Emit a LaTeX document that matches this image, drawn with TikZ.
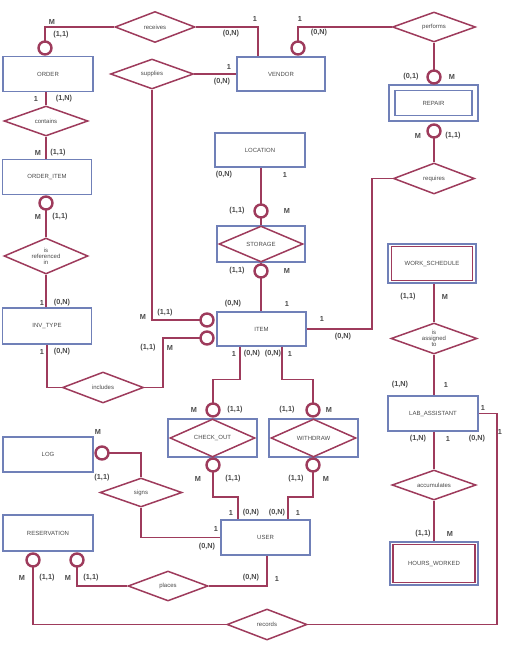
\documentclass[tikz,border=0pt]{standalone}
\usepackage{fontspec}
\setmainfont{Liberation Sans}
\usetikzlibrary{shapes.geometric}
\definecolor{erblue}{HTML}{7080B8}
\definecolor{ermaroon}{HTML}{9E3B5C}
\definecolor{erink}{HTML}{4A4A4A}

\begin{document}
\begin{tikzpicture}[x=1pt,y=-1pt,
  ent/.style={draw=erblue, line width=1.2pt, rectangle, inner sep=0pt,
    font=\fontsize{6}{7}\selectfont, text=erink, fill=white},
  weakin/.style={draw=ermaroon, line width=1.2pt, rectangle, inner sep=0pt,
    font=\fontsize{6}{7}\selectfont, text=erink},
  rel/.style={draw=ermaroon, line width=1.5pt, diamond, aspect=2.6, inner sep=0pt,
    font=\fontsize{6}{6}\selectfont, text=erink, align=center, fill=white},
  conn/.style={draw=ermaroon, line width=1.7pt},
  opt/.style={circle, draw=ermaroon, line width=2.4pt, minimum size=13pt,
    inner sep=0pt, fill=white},
  card/.style={font=\fontsize{7.3}{7.3}\bfseries\selectfont, text=erink, inner sep=0pt}
]
\useasboundingbox (0,0) rectangle (504,648);

% ---------- entities ----------
\node[ent, minimum width=90, minimum height=35] (order) at (48,74) {ORDER};
\node[ent, minimum width=89, minimum height=35] (orderitem) at (47,177) {ORDER\_ITEM};
\node[ent, minimum width=89, minimum height=36] (invtype) at (47,326) {INV\_TYPE};
\node[ent, minimum width=88, minimum height=34] (vendor) at (281,74) {VENDOR};
\node[ent, minimum width=90, minimum height=34] (location) at (260,150) {LOCATION};
\node[ent, minimum width=89, minimum height=34] (item) at (261.5,329) {ITEM};
\node[ent, minimum width=90, minimum height=35] (lab) at (433,413.5) {LAB\_ASSISTANT};
\node[ent, minimum width=90, minimum height=35] (log) at (48,454.5) {LOG};
\node[ent, minimum width=90, minimum height=36] (reservation) at (48,533) {RESERVATION};
\node[ent, minimum width=89, minimum height=35] (user) at (265.5,537.5) {USER};

% weak entities: double outlines
\node[ent, minimum width=89, minimum height=36] (repair) at (433.5,103) {};
\node[ent, minimum width=77, minimum height=25] (repairin) at (433.5,103) {REPAIR};
\node[ent, minimum width=88, minimum height=39] (worksch) at (432,263.5) {};
\node[weakin, minimum width=81, minimum height=34] (workschin) at (432,263.5) {WORK\_SCHEDULE};
\node[ent, minimum width=88, minimum height=43] (hours) at (434,563.5) {};
\node[weakin, minimum width=82, minimum height=38] (hoursin) at (434,563.5) {HOURS\_WORKED};

% associative entities: diamond inside a box
\node[ent, minimum width=88, minimum height=36] (storage) at (261,244) {};
\node[rel, minimum width=84, minimum height=36] (storaged) at (261,244) {STORAGE};
\node[ent, minimum width=89, minimum height=38] (checkout) at (212.5,438) {};
\node[rel, minimum width=85, minimum height=38] (checkoutd) at (212.5,438) {CHECK\_OUT};
\node[ent, minimum width=89, minimum height=38] (withdraw) at (313.5,438) {};
\node[rel, minimum width=85, minimum height=38] (withdrawd) at (313.5,438) {WITHDRAW};

% ---------- relationships ----------
\node[rel, minimum width=80, minimum height=31] (receives) at (155,27) {receives};
\node[rel, minimum width=83, minimum height=30] (supplies) at (152,74) {supplies};
\node[rel, minimum width=83, minimum height=30] (performs) at (434,27) {performs};
\node[rel, minimum width=84, minimum height=30] (contains) at (46,121) {contains};
\node[rel, minimum width=84, minimum height=36] (isref) at (46,256) {is\\referenced\\in};
\node[rel, minimum width=81, minimum height=31] (requires) at (434,178.5) {requires};
\node[rel, minimum width=81, minimum height=31] (includes) at (103,387.5) {includes};
\node[rel, minimum width=86, minimum height=31] (assigned) at (434,338.5) {is\\assigned\\to};
\node[rel, minimum width=84, minimum height=30] (accum) at (434,485) {accumulates};
\node[rel, minimum width=82, minimum height=29] (signs) at (141,492.5) {signs};
\node[rel, minimum width=80, minimum height=30] (places) at (168,586) {places};
\node[rel, minimum width=80, minimum height=31] (records) at (267,624.5) {records};

% ---------- bend points ----------
\coordinate (reqbend) at (372,178.5);
\coordinate (incbend) at (163,338);
\coordinate (recbend) at (497,413.5);

% ---------- connectors ----------
\draw[conn] (45,48) |- (receives.west);
\draw[conn] (receives.east) -| ([xshift=-23]vendor.north);
\draw[conn] (supplies.east) -- (supplies.east -| vendor.west);
\draw[conn] (298,48) |- (performs.west);
\draw[conn] (performs.south) -- (434,77);
\draw[conn] (434,131) -- (requires.north);
\draw[conn] (requires.west) -- (reqbend) |- (item.east);
\draw[conn] (contains.north) -- (contains.north |- order.south);
\draw[conn] (contains.south) -- (contains.south |- orderitem.north);
\draw[conn] (46,203) -- (isref.north);
\draw[conn] (isref.south) -- (isref.south |- invtype.north);
\draw[conn] (invtype.south) |- (includes.west);
\draw[conn] (includes.east) -| (incbend) -- (207,338);
\draw[conn] (supplies.south) |- (207,320);
\draw[conn] (location.south -| storaged.north) -- (storaged.north);
\draw[conn] (storaged.south) -- (storaged.south |- item.north);
\draw[conn] ([xshift=-21.5]item.south) -- ++(0,33) -| (213,410);
\draw[conn] ([xshift=20.5]item.south) -- ++(0,33) -| (313,410);
\draw[conn] (213,465) -- ++(0,32) -| ([xshift=-27.5]user.north);
\draw[conn] (313,465) -- ++(0,32) -| ([xshift=22.5]user.north);
\draw[conn] (102,453) -| (signs.north);
\draw[conn] (signs.south) |- (user.west);
\draw[conn] ([xshift=1.5]user.south) |- (places.east);
\draw[conn] (77,560) |- (places.west);
\draw[conn] (33,560) |- (records.west);
\draw[conn] (records.east) -| (recbend) -- (lab.east);
\draw[conn] (assigned.north |- worksch.south) -- (assigned.north);
\draw[conn] (assigned.south) -- (assigned.south |- lab.north);
\draw[conn] (accum.north |- lab.south) -- (accum.north);
\draw[conn] (accum.south) -- (accum.south |- hours.north);

% ---------- optionality circles ----------
\node[opt] (oOrder) at (45,48) {};
\node[opt] (oVendor) at (298,48) {};
\node[opt] (oRepTop) at (434,77) {};
\node[opt] (oRepBot) at (434,131) {};
\node[opt] (oOItem) at (46,203) {};
\node[opt] (oLoc) at (261,211) {};
\node[opt] (oStor) at (261,271) {};
\node[opt] (oItemA) at (207,320) {};
\node[opt] (oItemB) at (207,338) {};
\node[opt] (oCoTop) at (213,410) {};
\node[opt] (oWdTop) at (313,410) {};
\node[opt] (oCoBot) at (213,465) {};
\node[opt] (oWdBot) at (313,465) {};
\node[opt] (oLog) at (102,453) {};
\node[opt] (oResA) at (33,560) {};
\node[opt] (oResB) at (77,560) {};

% ---------- cardinalities ----------
\foreach \t/\x/\y in {
  M/52/22, (1{,}1)/61/35, 1/255/19, (0{,}N)/231/34, 1/229/67, (0{,}N)/222/82,
  1/300/19, (0{,}N)/319/33, (0{,}1)/411/77, M/452/77, M/418/136, (1{,}1)/453/136,
  1/36/99, (1{,}N)/64/99, M/38/153, (1{,}1)/58/153, M/38/217, (1{,}1)/60/217,
  1/42/303, (0{,}N)/62/303, 1/42/352, (0{,}N)/62/352,
  M/143/317, (1{,}1)/165/313, (1{,}1)/148/348, M/170/348,
  (0{,}N)/224/175, 1/285/175, (1{,}1)/237/211, M/287/211,
  (1{,}1)/237/271, M/287/271, (0{,}N)/233/304, 1/287/304,
  1/322/319, (0{,}N)/343/337,
  (1{,}1)/408/297, M/445/297, (1{,}N)/400/385, 1/446/385,
  1/483/408, 1/500/432, (1{,}N)/418/439, 1/448/439, (0{,}N)/477/439,
  (1{,}1)/423/534, M/450/534,
  1/234/354, (0{,}N)/252/354, (0{,}N)/273/354, 1/290/354,
  M/194/410, (1{,}1)/235/410, (1{,}1)/287/410, M/329/410,
  M/198/479, (1{,}1)/233/479, (1{,}1)/296/479, M/326/479,
  1/231/513, (0{,}N)/251/513, (0{,}N)/277/513, 1/298/513,
  1/216/529, (0{,}N)/207/547,
  M/98/432, (1{,}1)/102/478,
  M/22/578, (1{,}1)/47/578, M/68/578, (1{,}1)/91/578,
  (0{,}N)/251/578, 1/277/579}
  \node[card] at (\x,\y) {\t};

\end{tikzpicture}
\end{document}
